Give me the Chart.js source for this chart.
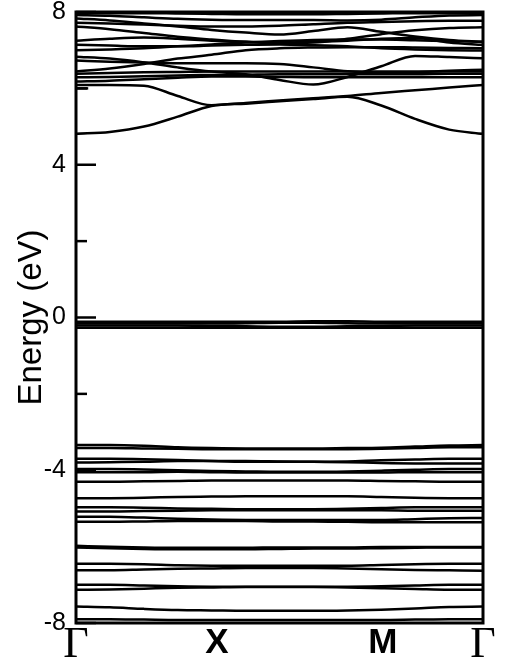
<!DOCTYPE html>
<html>
<head>
<meta charset="utf-8">
<script src="https://cdn.jsdelivr.net/npm/chart.js@4"></script>
<style>
  body { margin: 0; background: #fff; }
</style>
</head>
<body>
<canvas id="bands" width="510" height="660"></canvas>
<script>
// k-path sample positions (0 = Γ, 1 = Γ)
const kPoints = [0, 0.083, 0.167, 0.25, 0.333, 0.417, 0.5, 0.583, 0.667, 0.75, 0.833, 0.917, 1];
const kLabelPos = [0, 0.346, 0.754, 1];
const kLabels = ["Γ", "X", "M", "Γ"];
const yMajor = [-8, -4, 0, 4, 8];
const yMinor = [-6, -2, 2, 6];

// conduction bands (eV)
const cond1 = [4.81, 4.86, 5.00, 5.26, 5.54, 5.60, 5.66, 5.72, 5.78, 5.55, 5.20, 4.92, 4.81];
const cond2 = [6.09, 6.09, 6.07, 5.80, 5.56, 5.62, 5.68, 5.74, 5.80, 5.88, 5.95, 6.02, 6.09];
const up1 = [7.97, 7.97, 7.97, 7.96, 7.95, 7.94, 7.94, 7.94, 7.95, 7.96, 7.97, 7.97, 7.97];
const up2 = [7.92, 7.90, 7.86, 7.82, 7.80, 7.79, 7.79, 7.79, 7.78, 7.80, 7.86, 7.91, 7.92];
const up3 = [7.83, 7.78, 7.70, 7.62, 7.53, 7.46, 7.41, 7.50, 7.60, 7.48, 7.36, 7.27, 7.22];
const up4 = [7.72, 7.70, 7.67, 7.64, 7.62, 7.62, 7.64, 7.68, 7.72, 7.74, 7.76, 7.77, 7.77];
const up5 = [7.62, 7.55, 7.45, 7.35, 7.28, 7.22, 7.18, 7.20, 7.30, 7.42, 7.52, 7.58, 7.60];
const up6 = [7.25, 7.30, 7.33, 7.30, 7.25, 7.22, 7.20, 7.22, 7.25, 7.30, 7.32, 7.20, 7.14];
const up7 = [7.14, 7.12, 7.10, 7.10, 7.12, 7.14, 7.15, 7.13, 7.10, 7.05, 7.02, 7.00, 6.99];
const up8 = [7.00, 7.02, 7.05, 7.10, 7.15, 7.20, 7.24, 7.27, 7.28, 7.28, 7.26, 7.24, 7.22];
const up9 = [6.83, 6.78, 6.68, 6.55, 6.44, 6.37, 6.22, 6.10, 6.30, 6.58, 6.85, 6.82, 6.79];
const up10 = [6.44, 6.52, 6.64, 6.78, 6.88, 7.00, 7.05, 7.07, 7.08, 7.08, 7.07, 7.06, 7.05];
const up11 = [6.73, 6.70, 6.68, 6.66, 6.66, 6.66, 6.64, 6.55, 6.45, 6.40, 6.42, 6.46, 6.49];
const up12 = [6.38, 6.40, 6.42, 6.43, 6.44, 6.44, 6.44, 6.44, 6.44, 6.44, 6.44, 6.44, 6.44];
const up13 = [6.29, 6.30, 6.32, 6.34, 6.35, 6.36, 6.37, 6.37, 6.37, 6.37, 6.37, 6.38, 6.38];
const up14 = [6.18, 6.20, 6.24, 6.28, 6.31, 6.31, 6.30, 6.29, 6.29, 6.29, 6.29, 6.29, 6.29];
const stubK = [0, 0.03];
const stubE = [6.00, 6.00];

// flat bands just below 0 eV
const flat1 = [-0.11, -0.11, -0.11, -0.11, -0.11, -0.11, -0.11, -0.10, -0.10, -0.11, -0.11, -0.11, -0.11];
const flat2 = [-0.16, -0.16, -0.16, -0.16, -0.16, -0.15, -0.14, -0.14, -0.15, -0.16, -0.16, -0.16, -0.16];
const flat3 = [-0.21, -0.21, -0.21, -0.21, -0.22, -0.23, -0.24, -0.24, -0.23, -0.22, -0.21, -0.21, -0.21];
const flat4 = [-0.27, -0.27, -0.27, -0.27, -0.27, -0.27, -0.27, -0.27, -0.27, -0.27, -0.27, -0.27, -0.27];

// valence bands (eV)
const val1 = [-3.34, -3.34, -3.36, -3.40, -3.42, -3.43, -3.43, -3.43, -3.42, -3.41, -3.38, -3.35, -3.34];
const val2 = [-3.42, -3.42, -3.43, -3.44, -3.45, -3.45, -3.45, -3.45, -3.45, -3.44, -3.42, -3.40, -3.40];
const val3 = [-3.70, -3.70, -3.71, -3.73, -3.76, -3.78, -3.78, -3.78, -3.77, -3.74, -3.72, -3.70, -3.70];
const val4 = [-3.80, -3.79, -3.78, -3.76, -3.76, -3.76, -3.77, -3.78, -3.79, -3.81, -3.82, -3.82, -3.82];
const val5 = [-3.97, -3.97, -3.98, -4.00, -4.02, -4.03, -4.04, -4.04, -4.03, -4.01, -3.99, -3.97, -3.97];
const val6 = [-4.05, -4.05, -4.05, -4.04, -4.05, -4.06, -4.06, -4.06, -4.06, -4.06, -4.05, -4.05, -4.05];
const val7 = [-4.30, -4.30, -4.29, -4.28, -4.27, -4.27, -4.27, -4.27, -4.27, -4.28, -4.29, -4.30, -4.30];
const val8 = [-4.73, -4.73, -4.72, -4.70, -4.69, -4.68, -4.68, -4.68, -4.68, -4.70, -4.72, -4.73, -4.73];
const val9 = [-4.97, -4.97, -4.98, -5.00, -5.01, -5.02, -5.02, -5.02, -5.01, -4.99, -4.97, -4.97, -4.97];
const val10 = [-5.08, -5.08, -5.07, -5.06, -5.05, -5.05, -5.05, -5.05, -5.05, -5.05, -5.06, -5.06, -5.06];
const val11 = [-5.22, -5.22, -5.24, -5.27, -5.29, -5.30, -5.30, -5.30, -5.30, -5.30, -5.28, -5.26, -5.25];
const val12 = [-5.35, -5.35, -5.34, -5.33, -5.33, -5.33, -5.34, -5.34, -5.35, -5.36, -5.36, -5.36, -5.36];
const val13 = [-5.98, -6.00, -6.02, -6.03, -6.03, -6.03, -6.02, -6.02, -6.02, -6.01, -6.01, -6.01, -6.01];
const val14 = [-6.02, -6.04, -6.06, -6.07, -6.07, -6.07, -6.06, -6.05, -6.05, -6.04, -6.03, -6.02, -6.02];
const val15 = [-6.45, -6.45, -6.46, -6.49, -6.50, -6.50, -6.50, -6.50, -6.50, -6.48, -6.46, -6.45, -6.45];
const val16 = [-6.62, -6.62, -6.60, -6.58, -6.57, -6.56, -6.56, -6.56, -6.57, -6.59, -6.61, -6.62, -6.63];
const val17 = [-7.00, -7.00, -7.02, -7.04, -7.05, -7.05, -7.05, -7.05, -7.05, -7.04, -7.02, -7.00, -7.00];
const val18 = [-7.13, -7.12, -7.10, -7.08, -7.07, -7.06, -7.06, -7.06, -7.07, -7.09, -7.11, -7.13, -7.13];
const val19 = [-7.57, -7.59, -7.63, -7.66, -7.67, -7.68, -7.68, -7.68, -7.67, -7.65, -7.62, -7.58, -7.57];
const val20 = [-7.90, -7.90, -7.91, -7.92, -7.92, -7.92, -7.92, -7.92, -7.92, -7.92, -7.91, -7.90, -7.90];

const bands = [
    cond1, cond2, up1, up2, up3, up4, up5, up6, up7, up8, up9, up10, up11, up12, up13, up14,
    flat1, flat2, flat3, flat4,
    val1, val2, val3, val4, val5, val6, val7, val8, val9, val10,
    val11, val12, val13, val14, val15, val16, val17, val18, val19, val20
];

function bandDataset(ks, es) {
    return {
        data: ks.map((k, i) => ({x: k, y: es[i]})),
        borderColor: "#000",
        borderWidth: 2.5,
        pointRadius: 0,
        fill: false,
        cubicInterpolationMode: "monotone"
    };
}

const datasets = bands.map(b => bandDataset(kPoints, b));
datasets.push(bandDataset(stubK, stubE));

// box around the plot + inward ticks on the left axis
const frame = {
    id: "frame",
    afterDatasetsDraw(chart) {
        const {ctx, chartArea: a, scales: {y}} = chart;
        ctx.save();
        ctx.strokeStyle = "#000";
        ctx.lineWidth = 3;
        ctx.strokeRect(a.left, a.top, a.right - a.left, a.bottom - a.top);
        ctx.lineWidth = 2.5;
        yMajor.forEach(v => {
            const py = y.getPixelForValue(v);
            ctx.beginPath(); ctx.moveTo(a.left, py); ctx.lineTo(a.left + 20, py); ctx.stroke();
        });
        yMinor.forEach(v => {
            const py = y.getPixelForValue(v);
            ctx.beginPath(); ctx.moveTo(a.left, py); ctx.lineTo(a.left + 11, py); ctx.stroke();
        });
        ctx.restore();
    }
};

new Chart(document.getElementById("bands"), {
    type: "line",
    data: {datasets},
    options: {
        responsive: false,
        animation: false,
        layout: {padding: {top: 12, right: 27, left: 0, bottom: 0}},
        plugins: {legend: {display: false}, tooltip: {enabled: false}},
        scales: {
            x: {
                type: "linear",
                min: 0,
                max: 1,
                afterBuildTicks: s => { s.ticks = kLabelPos.map(v => ({value: v})); },
                afterFit: s => { s.height = 37; s.paddingLeft = 0; s.paddingRight = 0; },
                grid: {display: false, drawTicks: false},
                border: {display: false},
                ticks: {
                    autoSkip: false,
                    maxRotation: 0,
                    padding: -3,
                    color: "#000",
                    callback: (v, i) => kLabels[i],
                    font: c => (c.index === 1 || c.index === 2)
                        ? {family: "'Liberation Sans'", size: 35, weight: "bold", lineHeight: 1.33}
                        : {family: "'Liberation Serif'", size: 44, weight: "normal", lineHeight: 1.14}
                }
            },
            y: {
                min: -8,
                max: 8,
                afterBuildTicks: s => { s.ticks = yMajor.map(v => ({value: v})); },
                afterFit: s => { s.width = 76; s.paddingTop = 0; s.paddingBottom = 0; },
                grid: {display: false, drawTicks: false},
                border: {display: false},
                ticks: {
                    padding: 10,
                    color: "#000",
                    font: {family: "'Liberation Sans'", size: 25}
                },
                title: {
                    display: true,
                    text: "Energy (eV)",
                    color: "#000",
                    font: {family: "'Liberation Sans'", size: 33},
                    padding: {top: 12, bottom: 0}
                }
            }
        }
    },
    plugins: [frame]
});
</script>
</body>
</html>
